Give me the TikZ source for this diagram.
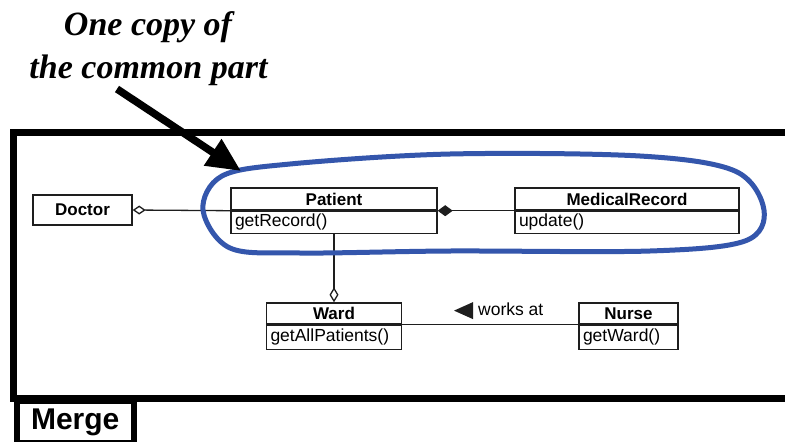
\documentclass[tikz,border=0pt]{standalone}
\usepackage{fontspec}
\usetikzlibrary{arrows.meta}
\newfontfamily\umlfont{Liberation Sans}
\newfontfamily\notefont{Liberation Serif}
\definecolor{hullblue}{RGB}{52,86,172}
\definecolor{ink}{RGB}{30,30,30}

\tikzset{
  classname/.style={draw=ink, line width=1.4pt, inner sep=0pt, minimum height=22pt,
    font=\umlfont\bfseries\fontsize{17}{17}\selectfont},
  classops/.style={draw=ink, line width=1.4pt, inner xsep=4pt, inner ysep=0pt,
    minimum height=22pt, align=left, anchor=north,
    font=\umlfont\fontsize{17.5}{17.5}\selectfont},
  assoc/.style={draw=ink, line width=1.3pt},
  notetext/.style={anchor=base, font=\notefont\bfseries\itshape\fontsize{34}{40}\selectfont},
}

\begin{document}
\begin{tikzpicture}[x=1pt, y=-1pt]
\clip (0,0) rectangle (785,442);
\fill[white] (0,0) rectangle (785,442);

% package frame and its tab
\draw[line width=7pt] (13.5,132) rectangle (820,398);
\node[draw, line width=6pt, anchor=north west, minimum width=117.5pt, minimum height=42pt,
  inner sep=0pt, font=\umlfont\bfseries\fontsize{30}{30}\selectfont] (merge) at (13.5,398) {Merge};

% classes
\node[draw=ink, line width=1.4pt, minimum width=99pt, minimum height=30pt, inner sep=0pt,
  font=\umlfont\bfseries\fontsize{17}{17}\selectfont] (doctor) at (82.5,210) {Doctor};

\node[classname, minimum width=206pt] (patient) at (334,199) {Patient};
\node[classops, text width=198pt] (patientops) at (patient.south) {getRecord()};

\node[classname, minimum width=224pt] (medrec) at (627,199) {MedicalRecord};
\node[classops, text width=216pt] (medrecops) at (medrec.south) {update()};

\node[classname, minimum width=135pt, minimum height=21pt] (ward) at (334,313.5) {Ward};
\node[classops, text width=127pt, minimum height=24pt] (wardops) at (ward.south) {getAllPatients()};

\node[classname, minimum width=99pt, minimum height=21pt] (nurse) at (628.5,313.5) {Nurse};
\node[classops, text width=91pt, minimum height=24pt] (nurseops) at (nurse.south) {getWard()};

% associations
\draw[assoc, {Diamond[open, length=13pt, width=9pt]}-] (doctor.east) -- (patient.south west);
\draw[assoc, {Diamond[length=15pt, width=11pt]}-] (patient.south east) -- (medrec.south west);
\draw[assoc, -{Diamond[open, length=15pt, width=9pt]}] (patientops.south) -- (ward.north);
\draw[assoc] (ward.south east) -- (nurse.south west);

% association name with reading direction
\node[anchor=base west, inner sep=0pt, font=\umlfont\fontsize{17.5}{17.5}\selectfont]
  (worksat) at (478,315) {works at};
\fill[ink] ([xshift=-5pt]worksat.north west) -- ([xshift=-5pt, yshift=-17pt]worksat.north west)
  -- ([xshift=-24pt, yshift=-8.5pt]worksat.north west) -- cycle;

% outline around the shared part
\draw[hullblue, line width=5pt] plot[smooth cycle, tension=0.55] coordinates {
  (203,210) (222,176) (290,164) (450,154) (640,156) (735,171) (764,210)
  (745,241) (650,251) (450,251) (300,253) (230,248)};

% annotation
\node[notetext] (note1) at (148,35) {One copy of};
\node[notetext] (note2) at (148.5,78) {the common part};
\coordinate (arrowstart) at (117,89);
\coordinate (arrowtip) at (241,171);
\draw[line width=7.5pt, -{Triangle[length=34pt, width=30pt]}] (arrowstart) -- (arrowtip);
\end{tikzpicture}
\end{document}
